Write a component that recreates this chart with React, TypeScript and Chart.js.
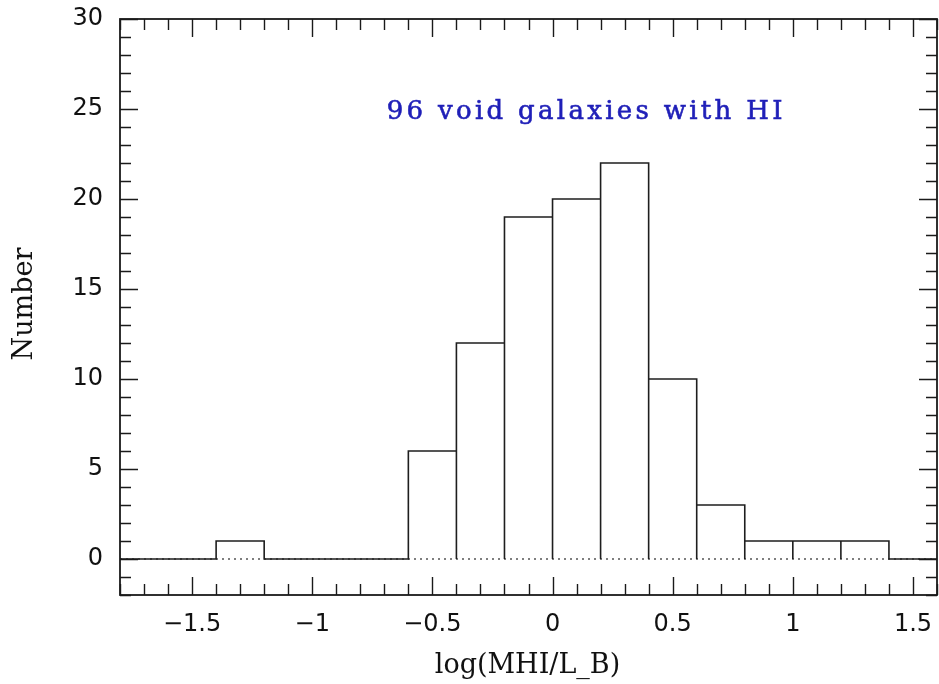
import React, { useEffect, useRef } from "react";
import { Chart, registerables } from "chart.js";

Chart.register(...registerables);

// ---- data ----
const X_MIN = -1.8;
const X_MAX = 1.6;
const Y_MIN = -2;
const Y_MAX = 30;

const binStarts = [-1.8, -1.6, -1.4, -1.2, -1.0, -0.8, -0.6, -0.4, -0.2, 0.0, 0.2, 0.4, 0.6, 0.8, 1.0, 1.2, 1.4];
const binWidth = 0.2;
const counts = [0, 0, 1, 0, 0, 0, 6, 12, 19, 20, 22, 10, 3, 1, 1, 1, 0];

const xTickValues = [-1.5, -1, -0.5, 0, 0.5, 1, 1.5];
const yTickValues = [0, 5, 10, 15, 20, 25, 30];
const xMinorStep = 0.1;
const yMinorStep = 1;

const xTitle = "log(MHI/L_B)";
const yTitle = "Number";
const note = "96 void galaxies with HI";
const notePos = { x: -0.69, y: 24.45 };

// histogram outline built from the bins
const outline: { x: number; y: number }[] = [];
binStarts.forEach((l, i) => {
  const r = +(l + binWidth).toFixed(6);
  const c = counts[i];
  if (c === 0) {
    outline.push({ x: l, y: 0 }, { x: r, y: 0 });
  } else {
    outline.push({ x: l, y: 0 }, { x: l, y: c }, { x: r, y: c }, { x: r, y: 0 });
  }
});

const fmt = (v: number) => (v < 0 ? "\u2212" + String(Math.abs(v)) : String(v));

const zeroPad = (s: any) => {
  s.paddingTop = 0;
  s.paddingBottom = 0;
  s.paddingLeft = 0;
  s.paddingRight = 0;
};

const framePlugin = {
  id: "frameTicks",
  afterDraw(chart: any) {
    const { ctx, chartArea } = chart;
    const { left, right, top, bottom } = chartArea;
    const xs = chart.scales.x;
    const ys = chart.scales.y;
    ctx.save();
    ctx.strokeStyle = "#1a1a1a";
    ctx.lineWidth = 1.8;
    ctx.strokeRect(left, top, right - left, bottom - top);

    ctx.lineWidth = 1.4;
    ctx.beginPath();
    const kx0 = Math.ceil(X_MIN / xMinorStep - 1e-6);
    const kx1 = Math.floor(X_MAX / xMinorStep + 1e-6);
    for (let k = kx0; k <= kx1; k++) {
      const v = k * xMinorStep;
      const px = Math.round(xs.getPixelForValue(v)) + 0.5;
      const len = k % 5 === 0 ? 18 : 11;
      ctx.moveTo(px, bottom);
      ctx.lineTo(px, bottom - len);
      ctx.moveTo(px, top);
      ctx.lineTo(px, top + len);
    }
    for (let k = Y_MIN; k <= Y_MAX; k += yMinorStep) {
      const py = Math.round(ys.getPixelForValue(k)) + 0.5;
      const len = k % 5 === 0 ? 18 : 11;
      ctx.moveTo(left, py);
      ctx.lineTo(left + len, py);
      ctx.moveTo(right, py);
      ctx.lineTo(right - len, py);
    }
    ctx.stroke();

    // axis titles
    ctx.fillStyle = "#111";
    ctx.font = '27px "DejaVu Serif"';
    ctx.textAlign = "center";
    ctx.textBaseline = "alphabetic";
    ctx.fillText(xTitle, (left + right) / 2 - 1, bottom + 78);

    ctx.save();
    ctx.translate(32, (top + bottom) / 2 - 3);
    ctx.rotate(-Math.PI / 2);
    ctx.fillText(yTitle, 0, 0);
    ctx.restore();

    // annotation
    ctx.fillStyle = "#1f1fb8";
    ctx.strokeStyle = "#1f1fb8";
    ctx.lineWidth = 0.6;
    ctx.font = '26px "DejaVu Serif"';
    (ctx as any).letterSpacing = "3.3px";
    ctx.textAlign = "left";
    const nx = xs.getPixelForValue(notePos.x);
    const ny = ys.getPixelForValue(notePos.y);
    ctx.fillText(note, nx, ny);
    ctx.strokeText(note, nx, ny);
    ctx.restore();
  },
};

export default function App() {
  const ref = useRef<HTMLCanvasElement>(null);
  useEffect(() => {
    const chart = new Chart(ref.current as HTMLCanvasElement, {
      type: "line",
      data: {
        datasets: [
          {
            data: outline,
            borderColor: "#1e1e1e",
            borderWidth: 1.6,
            pointRadius: 0,
            tension: 0,
            fill: false,
            borderJoinStyle: "miter",
          },
          {
            data: [
              { x: X_MIN, y: 0 },
              { x: X_MAX, y: 0 },
            ],
            borderColor: "#555",
            borderWidth: 1.6,
            borderDash: [2, 4],
            pointRadius: 0,
            fill: false,
          },
        ],
      },
      options: {
        animation: false,
        responsive: true,
        maintainAspectRatio: false,
        layout: { padding: { top: 19, right: 2, left: 0, bottom: 0 } },
        plugins: { legend: { display: false }, tooltip: { enabled: false } },
        scales: {
          x: {
            type: "linear",
            min: X_MIN,
            max: X_MAX,
            grid: { display: false },
            border: { display: false },
            afterBuildTicks: (s: any) => {
              s.ticks = xTickValues.map((v) => ({ value: v }));
            },
            afterFit: (s: any) => {
              s.height = 89;
              zeroPad(s);
            },
            ticks: {
              autoSkip: false,
              maxRotation: 0,
              padding: 7,
              color: "#111",
              font: { family: "DejaVu Sans", size: 24 },
              callback: (v: any) => fmt(Number(v)),
            },
          },
          y: {
            type: "linear",
            min: Y_MIN,
            max: Y_MAX,
            grid: { display: false },
            border: { display: false },
            afterBuildTicks: (s: any) => {
              s.ticks = yTickValues.map((v) => ({ value: v }));
            },
            afterFit: (s: any) => {
              s.width = 120;
              zeroPad(s);
            },
            ticks: {
              autoSkip: false,
              padding: 9,
              color: "#111",
              font: { family: "DejaVu Sans", size: 24 },
              callback: (v: any) => fmt(Number(v)),
            },
          },
        },
      },
      plugins: [framePlugin],
    } as any);
    return () => chart.destroy();
  }, []);
  return (
    <div style={{ position: "absolute", left: 0, top: 0, width: 939, height: 684, background: "#fff" }}>
      <canvas ref={ref} />
    </div>
  );
}
